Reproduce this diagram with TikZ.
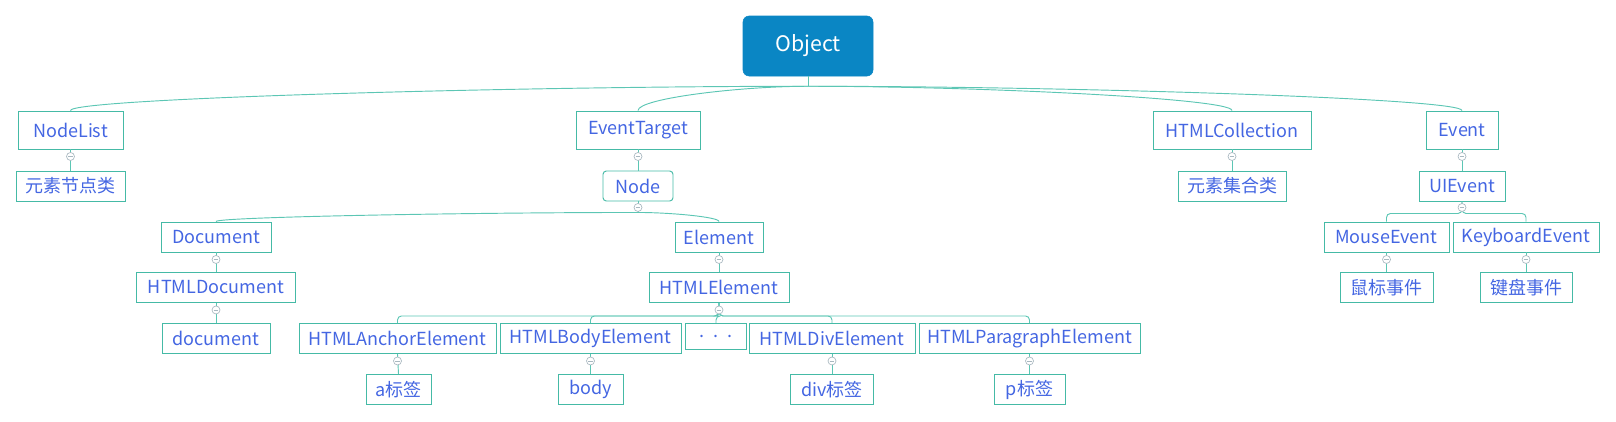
\documentclass[tikz,border=0pt]{standalone}
\usepackage{fontspec}
\setmainfont{Noto Sans CJK SC}
\usetikzlibrary{calc}
\definecolor{boxc}{HTML}{45BAA6}
\definecolor{linec}{HTML}{5CC6B4}
\definecolor{txtc}{HTML}{4466E2}
\definecolor{objc}{HTML}{0A86C4}
\definecolor{iconc}{HTML}{A9B8C0}
\newcommand\curvelink[2]{%
  \draw[conn] (#1) .. controls ($(#1)!0.4!(#1 -| #2.north)$) and ($(#2.north)!0.5!(#2.north |- #1)$) .. (#2.north);}
\begin{document}
\begin{tikzpicture}[x=0.75pt,y=-0.75pt,
  box/.style={draw=boxc, line width=0.7pt, text=txtc, font=\fontsize{13.5}{16}\selectfont, inner sep=0pt, minimum height=30*0.75pt},
  tall/.style={minimum height=38*0.75pt},
  wd/.style={minimum width=#1*0.75pt},
  objbox/.style={fill=objc, draw=objc, rounded corners=4.5pt, text=white, font=\fontsize{16}{19}\selectfont, inner sep=0pt, minimum width=130*0.75pt, minimum height=60*0.75pt},
  conn/.style={draw=linec, line width=0.7pt},
  icon/.style={circle, draw=iconc, fill=white, line width=0.5pt, inner sep=0pt, minimum size=8*0.75pt,
    path picture={\draw[iconc, line width=0.5pt] ([xshift=-1.8pt]path picture bounding box.center) -- ([xshift=1.8pt]path picture bounding box.center);}}
]
\useasboundingbox (0,0) rectangle (1616,421);

% nodes
\node[objbox] (obj) at (808,46) {Object};

\node[box,tall,wd=105] (nl) at (70.5,130) {NodeList};
\node[box,tall,wd=124] (et) at (638,130) {EventTarget};
\node[box,tall,wd=158] (hc) at (1232,130) {HTMLCollection};
\node[box,tall,wd=72] (ev) at (1462,130) {Event};

\node[box,wd=109] (ys) at (70.5,186) {元素节点类};
\node[box,wd=70,rounded corners=2.5pt] (nd) at (638,186) {Node};
\node[box,wd=108] (jh) at (1232,186) {元素集合类};
\node[box,wd=86] (ue) at (1462,186) {UIEvent};

\node[box,wd=110] (doc) at (216,237) {Document};
\node[box,wd=88] (el) at (719,237) {Element};
\node[box,wd=125] (me) at (1386.5,237) {MouseEvent};
\node[box,wd=146] (ke) at (1526,237) {KeyboardEvent};

\node[box,wd=159] (hd) at (216,287.5) {HTMLDocument};
\node[box,wd=140] (he) at (719,287.5) {HTMLElement};
\node[box,wd=93] (sb) at (1386.5,287.5) {鼠标事件};
\node[box,wd=92] (jp) at (1526,287.5) {键盘事件};

\node[box,wd=108] (dl) at (216,338.5) {document};
\node[box,wd=197] (ha) at (397.5,338.5) {HTMLAnchorElement};
\node[box,wd=181] (hb) at (590.5,338.5) {HTMLBodyElement};
\node[box,wd=61,minimum height=26*0.75pt] (dots) at (716,336.5) {.\,\,\,.\,\,\,.};
\node[box,wd=166] (hdv) at (832,338.5) {HTMLDivElement};
\node[box,wd=221] (hp) at (1029.5,338.5) {HTMLParagraphElement};

\node[box,wd=65] (at) at (398.5,389.5) {a标签};
\node[box,wd=65] (bd) at (590.5,389.5) {body};
\node[box,wd=83] (dt) at (832,389.5) {div标签};
\node[box,wd=71] (pt) at (1029.5,389.5) {p标签};

% Object -> first level
\coordinate (hub0) at ($(obj.south)+(0,10)$);
\draw[conn] (obj.south) -- (hub0);
\curvelink{hub0}{nl}
\curvelink{hub0}{et}
\curvelink{hub0}{hc}
\curvelink{hub0}{ev}

% straight links
\draw[conn] (nl.south) -- (ys.north);
\draw[conn] (et.south) -- (nd.north);
\draw[conn] (hc.south) -- (jh.north);
\draw[conn] (ev.south) -- (ue.north);
\draw[conn] (doc.south) -- (hd.north);
\draw[conn] (hd.south) -- (dl.north);
\draw[conn] (el.south) -- (he.north);
\draw[conn] (me.south) -- (sb.north);
\draw[conn] (ke.south) -- (jp.north);
\draw[conn] (ha.south) -- (at.north);
\draw[conn] (hb.south) -- (bd.north);
\draw[conn] (hdv.south) -- (dt.north);
\draw[conn] (hp.south) -- (pt.north);

% Node -> Document, Element
\coordinate (hub1) at ($(nd.south)+(0,11)$);
\draw[conn] (nd.south) -- (hub1);
\curvelink{hub1}{doc}
\curvelink{hub1}{el}

% UIEvent -> Mouse/Keyboard
\foreach \c in {me,ke}
  \draw[conn, rounded corners=3pt] (ue.south) -- ($(ue.south)+(0,12)$) -| (\c.north);

% HTMLElement -> children
\foreach \c in {ha,hb,dots,hdv,hp}
  \draw[conn, rounded corners=3pt] (he.south) -- ($(he.south)+(0,13)$) -| (\c.north);

% collapse icons
\node[icon] (i1) at ($(nl.south)+(0,7)$) {};
\node[icon] (i2) at ($(et.south)+(0,7)$) {};
\node[icon] (i3) at ($(hc.south)+(0,7)$) {};
\node[icon] (i4) at ($(ev.south)+(0,7)$) {};
\node[icon] (i5) at ($(nd.south)+(0,6)$) {};
\node[icon] (i6) at ($(ue.south)+(0,6)$) {};
\node[icon] (i7) at ($(doc.south)+(0,7)$) {};
\node[icon] (i8) at ($(hd.south)+(0,7)$) {};
\node[icon] (i9) at ($(el.south)+(0,7)$) {};
\node[icon] (i10) at ($(he.south)+(0,7)$) {};
\node[icon] (i11) at ($(me.south)+(0,7)$) {};
\node[icon] (i12) at ($(ke.south)+(0,7)$) {};
\node[icon] (i13) at ($(ha.south)+(0,7)$) {};
\node[icon] (i14) at ($(hb.south)+(0,7)$) {};
\node[icon] (i15) at ($(hdv.south)+(0,7)$) {};
\node[icon] (i16) at ($(hp.south)+(0,7)$) {};
\end{tikzpicture}
\end{document}
